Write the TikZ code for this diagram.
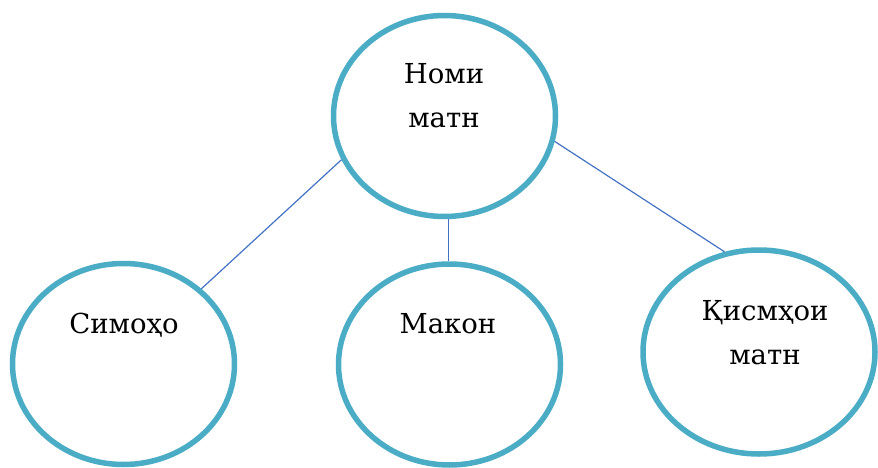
\documentclass[tikz,border=0pt]{standalone}
\usepackage{fontspec}
\setmainfont{DejaVu Serif}
\usetikzlibrary{shapes.geometric}
\definecolor{ringblue}{HTML}{4BACC6}
\definecolor{linkblue}{HTML}{4472C4}

\begin{document}
\begin{tikzpicture}[x=1pt, y=-1pt,
    bubble/.style={ellipse, draw=ringblue, line width=5.5pt, inner sep=0pt,
        minimum width=222pt, minimum height=201pt},
    word/.style={font=\fontsize{27.5}{44}\selectfont, align=center, anchor=base},
    link/.style={draw=linkblue, line width=1.2pt}]

    \useasboundingbox (0,0) rectangle (878,468);

    % Define ellipses with coordinates
    \node[bubble] (title) at (444.5,116) {};
    \node[bubble] (chars) at (123.5,364) {};
    \node[bubble] (place) at (449.5,364.5) {};
    \node[bubble, minimum width=232pt, minimum height=204pt] (parts) at (759,352) {};

    % Texts inside the ellipses (base is the last line)
    \node[word] (t1) at (444,128) {Номи\\матн};
    \node[word] (t2) at (124,333) {Симоҳо};
    \node[word] (t3) at (448,333) {Макон};
    \node[word] (t4) at (765,364) {Қисмҳои\\матн};

    % Draw links from the title to the three parts
    \draw[link] (title.203) -- (chars.44);
    \draw[link] (title.272) -- (title.272 |- place.north);
    \draw[link] (title.347) -- (parts.109);
\end{tikzpicture}
\end{document}
